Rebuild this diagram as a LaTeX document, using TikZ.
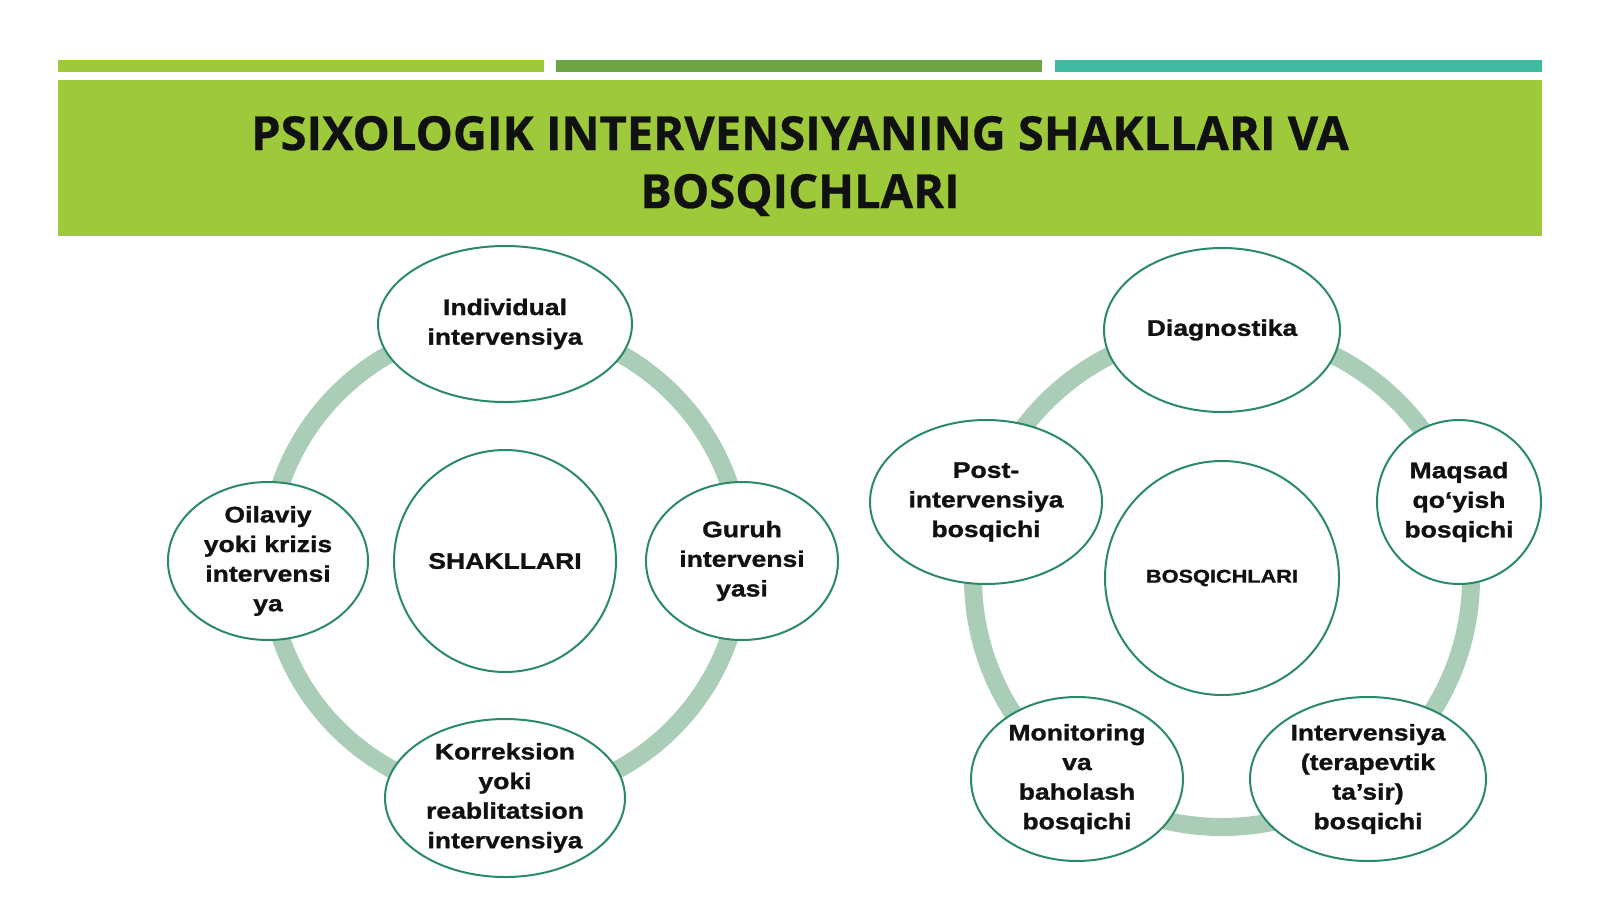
\documentclass[tikz,border=0pt]{standalone}
\usepackage{fontspec}
\usepackage{tikz}
\usetikzlibrary{calc,shapes.geometric}
\newfontfamily\titlefont{Open Sans}[BoldFeatures={FakeBold=0.6}]
\newfontfamily\labfont{Liberation Sans}[FakeStretch=1.18, BoldFeatures={FakeBold=1.2}]
\definecolor{lime}{HTML}{9DC93A}
\definecolor{leaf}{HTML}{6DA545}
\definecolor{sea}{HTML}{3FBA9E}
\definecolor{ring}{HTML}{A9CDB7}
\definecolor{edge}{HTML}{2B8A66}
\definecolor{ink}{HTML}{111111}
\tikzset{
  ringline/.style={draw=ring, line width=18pt},
  form/.style={ellipse, draw=edge, line width=2pt, fill=white, inner sep=0pt,
    align=center, text=ink, font=\labfont\bfseries\fontsize{22.5}{29.6}\selectfont},
  hub/.style={form, circle},
  head/.style={text=ink, align=center, font=\titlefont\bfseries\fontsize{47}{58}\selectfont},
}
\begin{document}
\begin{tikzpicture}[x=1pt,y=-1pt]
  \useasboundingbox (0,0) rectangle (1600,899);
  \coordinate (L) at (505,561);
  \coordinate (R) at (1222,578);

  % header
  \fill[lime] (58,60) rectangle (544,72);
  \fill[leaf] (556,60) rectangle (1042,72);
  \fill[sea] (1055,60) rectangle (1542,72);
  \fill[lime] (58,80) rectangle (1542,236);
  \node[head] (title) at (800,166) {PSIXOLOGIK INTERVENSIYANING SHAKLLARI VA\\BOSQICHLARI};

  % shakllari
  \draw[ringline] (L) circle (237pt);
  \node[hub, minimum size=222pt] (shakl) at (L) {SHAKLLARI};
  \node[form, minimum width=254pt, minimum height=156pt] (indiv) at ($(L)+(0,-237)$) {Individual\\intervensiya};
  \node[form, minimum width=200pt, minimum height=158pt] (oila) at ($(L)+(-237,0)$) {Oilaviy\\yoki krizis\\intervensi\\ya};
  \node[form, minimum width=192pt, minimum height=158pt] (guruh) at ($(L)+(237,0)$) {Guruh\\intervensi\\yasi};
  \node[form, minimum width=240pt, minimum height=158pt] (korr) at ($(L)+(0,237)$) {Korreksion\\yoki\\reablitatsion\\intervensiya};

  % bosqichlari
  \draw[ringline] (R) circle (249pt);
  \node[hub, minimum size=234pt, font=\labfont\bfseries\fontsize{18.4}{22}\selectfont] (bosq) at (R) {BOSQICHLARI};
  \node[form, minimum width=236pt, minimum height=164pt] (diag) at ($(R)+(0,-248)$) {Diagnostika};
  \node[hub, minimum size=164pt] (maqs) at ($(R)+(237,-76)$) {Maqsad\\qo‘yish\\bosqichi};
  \node[form, minimum width=236pt, minimum height=164pt] (terap) at ($(R)+(146,201)$) {Intervensiya\\(terapevtik\\ta’sir)\\bosqichi};
  \node[form, minimum width=212pt, minimum height=164pt] (monit) at ($(R)+(-145,201)$) {Monitoring\\va\\baholash\\bosqichi};
  \node[form, minimum width=232pt, minimum height=164pt] (post) at ($(R)+(-236,-76)$) {Post-\\intervensiya\\bosqichi};
\end{tikzpicture}
\end{document}
